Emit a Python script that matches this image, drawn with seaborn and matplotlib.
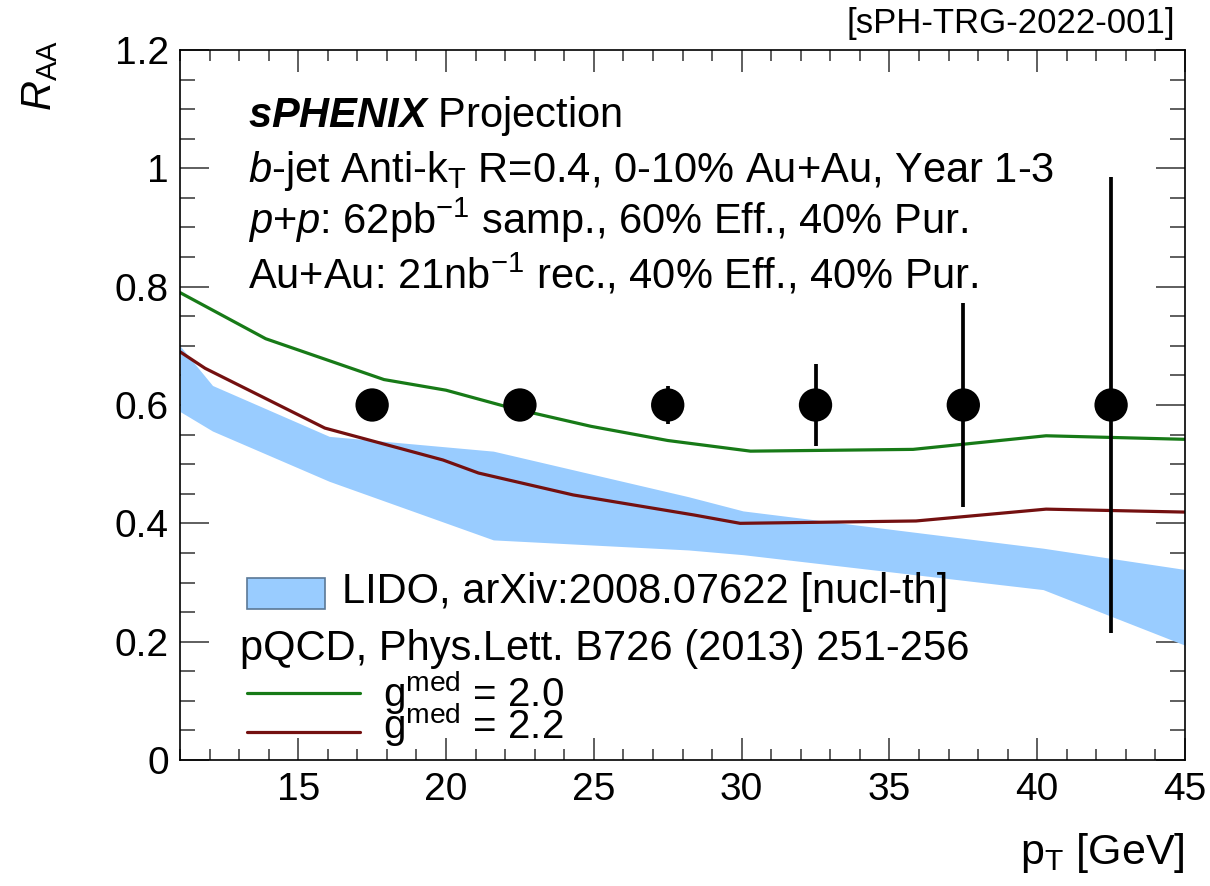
import matplotlib
matplotlib.use('Agg')
import matplotlib.pyplot as plt
import seaborn as sns
import pandas as pd
from matplotlib.patches import Rectangle
from matplotlib.lines import Line2D
from matplotlib.ticker import MultipleLocator

# ---------------- data ----------------
pt_points = [17.5, 22.5, 27.5, 32.5, 37.5, 42.5]
raa_points = [0.6, 0.6, 0.6, 0.6, 0.6, 0.6]
raa_err = [0.01, 0.015, 0.032, 0.07, 0.172, 0.385]

pt_g20 = [11, 13.9, 17.9, 20.0, 22.2, 24.9, 27.5, 30.3, 35.8, 40.3, 45]
raa_g20 = [0.79, 0.712, 0.643, 0.625, 0.595, 0.564, 0.54, 0.522, 0.525, 0.548, 0.542]

pt_g22 = [11, 11.85, 15.9, 19.9, 21.1, 24.3, 28.4, 29.95, 35.9, 40.3, 45]
raa_g22 = [0.69, 0.662, 0.561, 0.507, 0.485, 0.448, 0.414, 0.40, 0.404, 0.424, 0.419]

pt_lido = [11, 12.1, 16.05, 21.6, 28.2, 30.05, 40.2, 45]
lido_high = [0.70, 0.633, 0.547, 0.522, 0.445, 0.421, 0.358, 0.322]
lido_low = [0.589, 0.556, 0.471, 0.372, 0.355, 0.347, 0.288, 0.194]

x_ticks = [15, 20, 25, 30, 35, 40, 45]
y_ticks = [0, 0.2, 0.4, 0.6, 0.8, 1.0, 1.2]
y_ticklabels = ["0", "0.2", "0.4", "0.6", "0.8", "1", "1.2"]

# ---------------- style ----------------
sns.set_theme(style='ticks')
plt.rcParams['font.family'] = ['Liberation Sans', 'DejaVu Sans']
plt.rcParams['mathtext.fontset'] = 'custom'
plt.rcParams['mathtext.rm'] = 'Liberation Sans'
plt.rcParams['mathtext.it'] = 'Liberation Sans:italic'
plt.rcParams['mathtext.bf'] = 'Liberation Sans:bold:italic'
plt.rcParams['text.color'] = 'black'
plt.rcParams['axes.labelcolor'] = 'black'

GREEN = '#177a17'
RED = '#741010'
BLUE = '#99ccff'
FS = 30

W, H = 1210, 886
L, R, T, B = 180, 1185, 50, 760
fig = plt.figure(figsize=(W / 100, H / 100), dpi=100)
ax = fig.add_axes([L / W, 1 - B / H, (R - L) / W, (B - T) / H])

df20 = pd.DataFrame({'pt': pt_g20, 'raa': raa_g20})
df22 = pd.DataFrame({'pt': pt_g22, 'raa': raa_g22})
dfp = pd.DataFrame({'pt': pt_points, 'raa': raa_points})

ax.fill_between(pt_lido, lido_low, lido_high, color=BLUE, lw=0, zorder=1)
sns.lineplot(data=df20, x='pt', y='raa', ax=ax, color=GREEN, lw=2.3, sort=False, zorder=2)
sns.lineplot(data=df22, x='pt', y='raa', ax=ax, color=RED, lw=2.3, sort=False, zorder=2)
ax.errorbar(pt_points, raa_points, yerr=raa_err, fmt='none', ecolor='black',
            elinewidth=2.7, capsize=0, zorder=3)
sns.scatterplot(data=dfp, x='pt', y='raa', ax=ax, color='black', s=24 ** 2,
                edgecolor='none', zorder=4)

ax.set_xlim(11, 45)
ax.set_ylim(0, 1.2)
ax.set_xticks(x_ticks)
ax.set_xticklabels([str(v) for v in x_ticks])
ax.set_yticks(y_ticks)
ax.set_yticklabels(y_ticklabels)
ax.xaxis.set_minor_locator(MultipleLocator(1))
ax.yaxis.set_minor_locator(MultipleLocator(0.05))

for s in ax.spines.values():
    s.set_visible(True)
    s.set_linewidth(1.2)
    s.set_color('black')

ax.tick_params(which='both', direction='in', top=True, right=True, width=1.1,
               color='#333333', labelsize=28, labelcolor='black')
ax.tick_params(axis='x', which='major', length=16, pad=9)
ax.tick_params(axis='x', which='minor', length=8)
ax.tick_params(axis='y', which='major', length=21, pad=8)
ax.tick_params(axis='y', which='minor', length=11)

ax.set_xlabel(r"p$_{\mathrm{T}}$ [GeV]", fontsize=31, loc='right')
ax.xaxis.label.set_verticalalignment('baseline')
ax.xaxis.set_label_coords(1.0, (B - 864) / (B - T))
ax.set_ylabel(r"$R_{\mathrm{AA}}$", fontsize=FS, loc='top')
ax.yaxis.set_label_coords((60 - L) / (R - L), (B - 40) / (B - T))


def ft(px, py, s, **kw):
    kw.setdefault('fontsize', FS)
    kw.setdefault('va', 'baseline')
    return fig.text(px / W, 1 - py / H, s, **kw)


ft(1175, 33, "[sPH-TRG-2022-001]", ha='right', fontsize=25)
ft(248, 127, r"$\mathbf{sPHENIX}$ Projection")
ft(248, 182, r"$b$-jet Anti-k$_{\mathrm{T}}$ R=0.4, 0-10% Au+Au, Year 1-3")
ft(248, 234, r"$p$+$p$: 62pb$^{-1}$ samp., 60% Eff., 40% Pur.")
ft(248, 288, r"Au+Au: 21nb$^{-1}$ rec., 40% Eff., 40% Pur.")

# legend replica
fig.add_artist(Rectangle((247 / W, 1 - 609 / H), 78 / W, 31 / H, transform=fig.transFigure,
                         facecolor=BLUE, edgecolor='#5b7896', lw=1.2))
ft(342, 603, "LIDO, arXiv:2008.07622 [nucl-th]")
ft(240, 660, "pQCD, Phys.Lett. B726 (2013) 251-256")
fig.add_artist(Line2D([247 / W, 360 / W], [1 - 693 / H, 1 - 693 / H], transform=fig.transFigure,
                      color=GREEN, lw=2.3))
fig.add_artist(Line2D([247 / W, 360 / W], [1 - 732 / H, 1 - 732 / H], transform=fig.transFigure,
                      color=RED, lw=2.3))
ft(383, 707, r"g$^{\mathrm{med}}$ = 2.0", fontsize=29)
ft(383, 739, r"g$^{\mathrm{med}}$ = 2.2", fontsize=29)

fig.savefig('out.png', dpi=100)
